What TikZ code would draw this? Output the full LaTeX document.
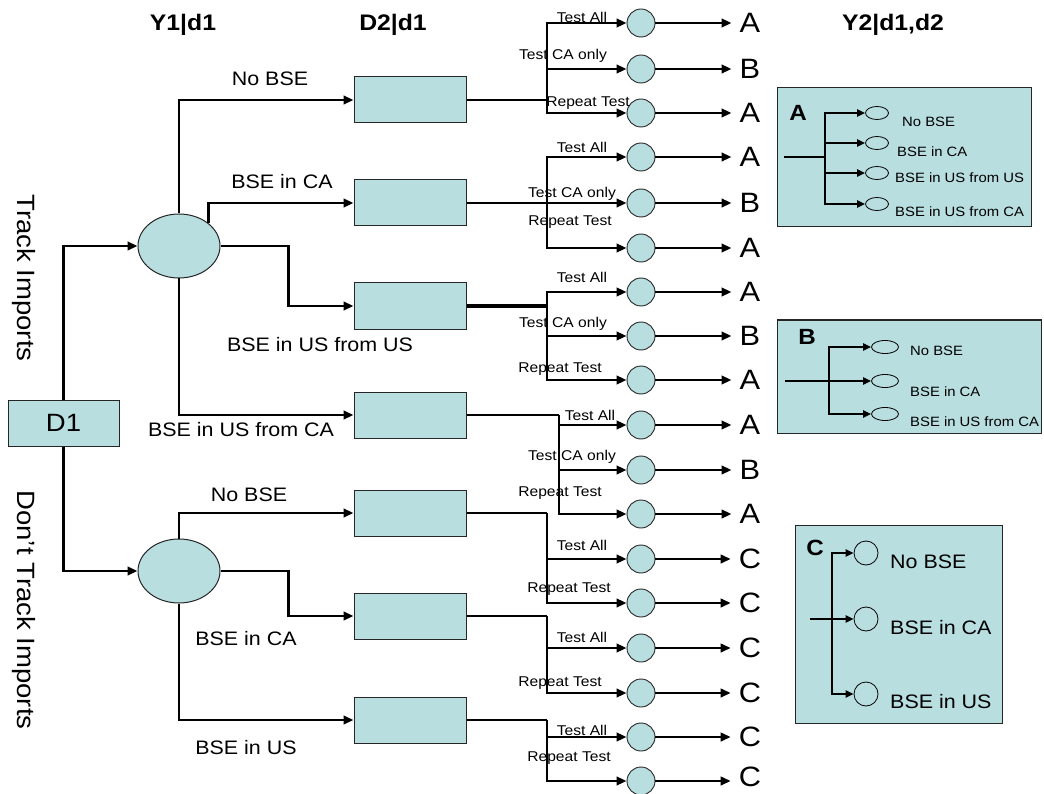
\documentclass[tikz,border=0pt]{standalone}
\usepackage{fontspec}
\setmainfont{Liberation Sans}[FakeStretch=1.1]
\usetikzlibrary{arrows.meta,shapes.geometric}
\definecolor{tealfill}{RGB}{184,222,224}
\tikzset{
  dbox/.style={draw=black!85, fill=tealfill, line width=1pt, minimum width=112pt, minimum height=46pt, inner sep=0pt},
  chance/.style={ellipse, draw=black!85, fill=tealfill, line width=1pt, minimum width=82pt, minimum height=64pt, inner sep=0pt},
  circ/.style={circle, draw=black!85, fill=tealfill, line width=0.9pt, minimum size=28pt, inner sep=0pt},
  conn/.style={line width=2.4pt, -{Triangle[length=10pt,width=8.5pt]}},
  sconn/.style={line width=2.4pt, -{Triangle[length=8pt,width=7pt]}},
  plain/.style={line width=2.4pt},
  lbl/.style={font=\fontsize{19.5}{21}\selectfont, inner sep=0pt},
  slbl/.style={font=\fontsize{14.2}{16}\selectfont, inner sep=0pt},
  outl/.style={font=\fontsize{28}{30}\selectfont, inner sep=0pt},
  ttl/.style={font=\fontsize{22.5}{24}\selectfont\bfseries, inner sep=0pt},
  legbox/.style={draw=black!85, fill=tealfill, line width=1pt, inner sep=0pt},
  legell/.style={ellipse, draw=black, fill=tealfill, line width=0.8pt, minimum width=23pt, minimum height=13pt, inner sep=0pt},
  legcirc/.style={circle, draw=black, fill=tealfill, line width=0.8pt, minimum size=24pt, inner sep=0pt},
  leglbl/.style={font=\fontsize{13.5}{15}\selectfont, inner sep=0pt, anchor=west},
  legbig/.style={font=\fontsize{19.5}{21}\selectfont, inner sep=0pt, anchor=west},
  legkey/.style={font=\fontsize{22}{24}\selectfont\bfseries, inner sep=0pt}
}
\begin{document}
\begin{tikzpicture}[x=1pt,y=-1pt]
\useasboundingbox (0,0) rectangle (1044,794);

% titles
\node[ttl] (t1) at (183,25) {Y1|d1};
\node[ttl] (t2) at (393,25) {D2|d1};
\node[ttl] (t3) at (893,25) {Y2|d1,d2};

% first decision
\node[dbox, minimum width=111pt] (d1) at (63.5,423) {\fontsize{25}{27}\selectfont D1};
\node[rotate=-90, font=\fontsize{25}{27}\selectfont, inner sep=0pt] (tr) at (24,278) {Track Imports};
\node[rotate=-90, font=\fontsize{25}{27}\selectfont, inner sep=0pt] (dtr) at (24,610) {Don’t Track Imports};

% chance nodes Y1
\node[chance] (c1) at (179,246) {};
\node[chance] (c2) at (179,571) {};
\draw[conn] (d1.north) |- (c1.west);
\draw[conn] (d1.south) |- (c2.west);

% D2 boxes
\foreach \i/\y in {1/100,2/203,3/306,4/415,5/513,6/616,7/720}
  \node[dbox] (b\i) at (410,\y) {};

% branches from c1
\draw[conn] (c1.north) |- (b1.west);
\draw[conn] (c1.north east) |- (b2.west);
\draw[conn] (c1.east) -- ++(68,0) |- (b3.west);
\draw[conn] (c1.south) |- (b4.west);
% branches from c2
\draw[conn] (c2.north) |- (b5.west);
\draw[conn] (c2.east) -- ++(68,0) |- (b6.west);
\draw[conn] (c2.south) |- (b7.west);

% branch labels
\node[lbl] (l1) at (270,79) {No BSE};
\node[lbl] (l2) at (282,182) {BSE in CA};
\node[lbl] (l3) at (320,345) {BSE in US from US};
\node[lbl] (l4) at (241,430) {BSE in US from CA};
\node[lbl] (l5) at (249,495) {No BSE};
\node[lbl] (l6) at (246,639) {BSE in CA};
\node[lbl] (l7) at (246,748) {BSE in US};

% chance nodes Y2 and outcomes
\foreach \i/\y/\ly/\r in {1/23/23/A,2/69/69/B,3/113/113/A,4/157/157/A,5/203/203/B,6/248/248/A,7/292/292/A,8/336/336/B,9/380/380/A,10/425/425/A,11/470/470/B,12/514/514/A,13/559/559/C,14/603/603/C,15/648/648/C,16/693/693/C,17/737/737/C,18/781/777/C}{
  \node[circ] (o\i) at (641,\y) {};
  \node[outl] (r\i) at (750,\ly) {\r};
  \draw[conn, shorten >=8pt] (o\i.east) -- (o\i.east -| r\i.west);
}

% junctions
\coordinate (j1) at (547,100);
\coordinate (j2) at (547,203);
\coordinate (j3) at (547,306);
\coordinate (j4) at (559,415);
\coordinate (j5) at (547,513);
\coordinate (j6) at (547,616);
\coordinate (j7) at (547,720);
\draw[plain] (b1.east) -- (j1);
\draw[plain] (b2.east) -- (j2);
\draw[line width=3.2pt] (b3.east) -- (j3);
\draw[plain] (b4.east) -- (j4);
\draw[plain] (b5.east) -- (j5);
\draw[plain] (b6.east) -- (j6);
\draw[plain] (b7.east) -- (j7);
\foreach \o in {1,2,3} \draw[conn] (j1) |- (o\o.west);
\foreach \o in {4,5,6} \draw[conn] (j2) |- (o\o.west);
\foreach \o in {7,8,9} \draw[conn] (j3) |- (o\o.west);
\foreach \o in {10,11,12} \draw[conn] (j4) |- (o\o.west);
\foreach \o in {13,14} \draw[conn] (j5) |- (o\o.west);
\foreach \o in {15,16} \draw[conn] (j6) |- (o\o.west);
\foreach \o in {17,18} \draw[conn] (j7) |- (o\o.west);

% small labels
\foreach \i/\x/\y/\t in {1/582/17/Test All,2/563/56/Test CA only,3/588/103/Repeat Test,
  4/582/147/Test All,5/572/194/Test CA only,6/570/222/Repeat Test,
  7/582/277/Test All,8/563/324/Test CA only,9/560/369/Repeat Test,
  10/590/415/Test All,11/572/457/Test CA only,12/560/493/Repeat Test,
  13/582/545/Test All,14/569/589/Repeat Test,15/582/637/Test All,
  16/560/683/Repeat Test,17/582/730/Test All,18/569/758/Repeat Test}
  \node[slbl] (s\i) at (\x,\y) {\t};

% legend A
\node[legbox, minimum width=254pt, minimum height=139pt] (LA) at (904,157.5) {};
\node[legkey] (kA) at (798,113) {A};
\coordinate (ain) at (784,157);
\coordinate (ja) at (825,157);
\draw[plain] (ain) -- (ja);
\foreach \i/\y in {1/113,2/143,3/173,4/204}{
  \node[legell] (ae\i) at (877,\y) {};
  \draw[sconn] (ja) |- (ae\i.west);
}
\node[leglbl] (la1) at (902,122) {No BSE};
\node[leglbl] (la2) at (897,152) {BSE in CA};
\node[leglbl] (la3) at (895,178) {BSE in US from US};
\node[leglbl] (la4) at (895,212) {BSE in US from CA};

% legend B
\node[legbox, minimum width=264pt, minimum height=113pt] (LB) at (909,376.5) {};
\node[legkey] (kB) at (807,337) {B};
\coordinate (bin) at (785,381);
\coordinate (jb) at (829,381);
\draw[plain] (bin) -- (jb);
\foreach \i/\y in {1/347,2/381,3/414}{
  \node[legell, minimum width=27pt] (be\i) at (885,\y) {};
  \draw[sconn] (jb) |- (be\i.west);
}
\node[leglbl] (lb1) at (910,351) {No BSE};
\node[leglbl] (lb2) at (910,392) {BSE in CA};
\node[leglbl] (lb3) at (910,422) {BSE in US from CA};

% legend C
\node[legbox, minimum width=207pt, minimum height=198pt] (LC) at (898.5,624) {};
\node[legkey] (kC) at (815,548) {C};
\coordinate (cin) at (810,619);
\coordinate (jc) at (832,619);
\draw[plain] (cin) -- (jc);
\foreach \i/\y in {1/553,2/619,3/694}{
  \node[legcirc] (ce\i) at (866,\y) {};
  \draw[sconn] (jc) |- (ce\i.west);
}
\node[legbig] (lc1) at (890,562) {No BSE};
\node[legbig] (lc2) at (890,628) {BSE in CA};
\node[legbig] (lc3) at (890,702) {BSE in US};
\end{tikzpicture}
\end{document}
